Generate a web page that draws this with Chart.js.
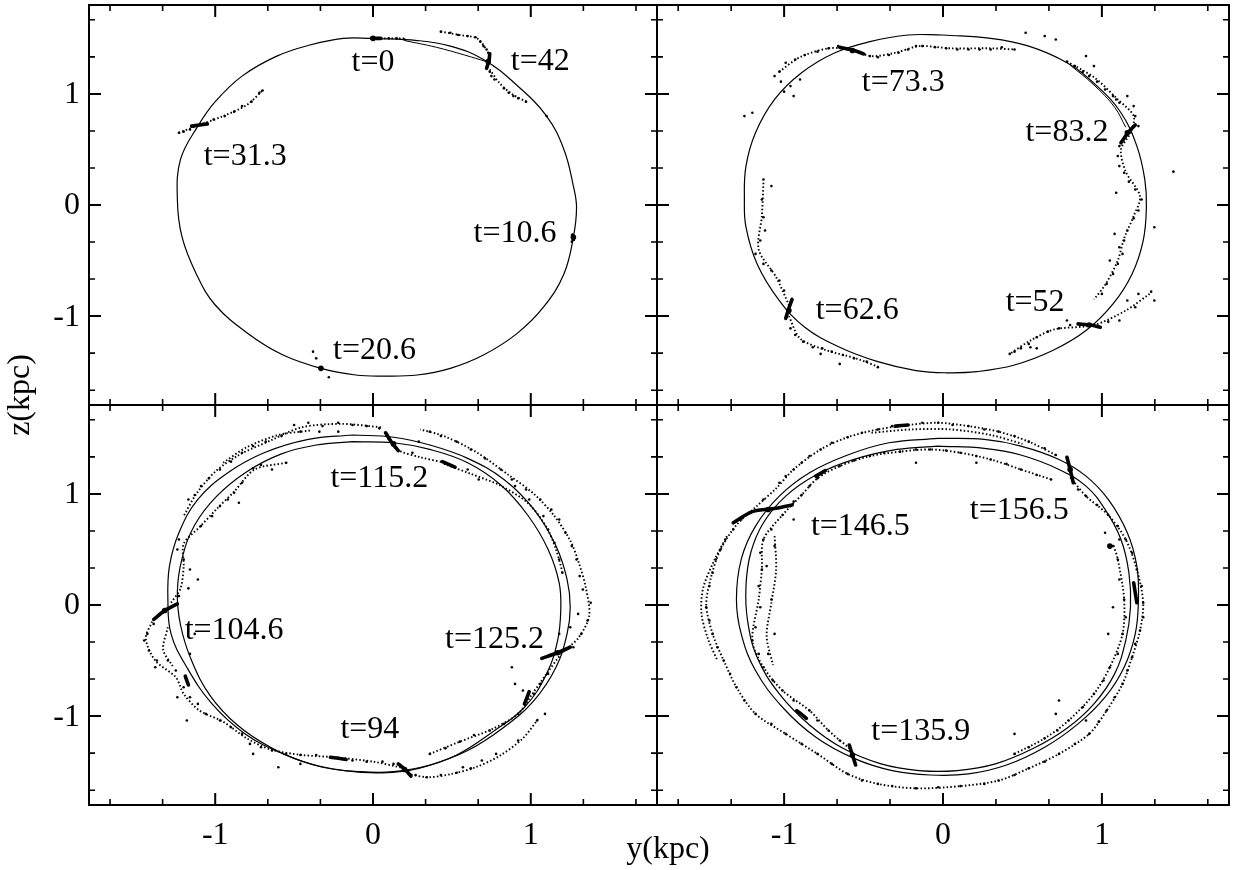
<!DOCTYPE html>
<html>
<head>
<meta charset="utf-8">
<title>Orbit snapshots</title>
<script src="https://cdn.jsdelivr.net/npm/chart.js@4.4.0/dist/chart.umd.min.js"></script>
<style>
    html, body { margin: 0; padding: 0; background: #fff; }
    #wrap { position: relative; width: 1241px; height: 870px; }
    #wrap canvas { position: absolute; left: 0; top: 0; }
</style>
</head>
<body>
<div id="wrap">
    <canvas id="c_tl" width="1241" height="870"></canvas>
    <canvas id="c_tr" width="1241" height="870"></canvas>
    <canvas id="c_bl" width="1241" height="870"></canvas>
    <canvas id="c_br" width="1241" height="870"></canvas>
</div>
<script>
/******************************************************************************
* Data. Every pair is [y(kpc), z(kpc)].
******************************************************************************/
var axisMin = -1.8;
var axisMax = 1.8;
var majorTicks = [-1, 0, 1];
var majorTickLabels = ['-1', '0', '1'];
var minorTicks = [-5/3, -4/3, -2/3, -1/3, 1/3, 2/3, 4/3, 5/3];
var xTitle = 'y(kpc)';
var yTitle = 'z(kpc)';

// top left panel
var orbitTL = [[0.00,1.50],[0.28,1.48],[0.49,1.43],[0.70,1.31],[0.91,1.08],[1.10,0.80],[1.21,0.50],[1.27,0.17],[1.29,-0.02],[1.27,-0.29],[1.21,-0.62],[1.08,-0.92],[0.91,-1.16],[0.70,-1.35],[0.49,-1.47],[0.28,-1.53],[0.06,-1.54],[-0.11,-1.53],[-0.33,-1.47],[-0.57,-1.35],[-0.78,-1.17],[-1.00,-0.90],[-1.12,-0.62],[-1.21,-0.29],[-1.24,0.05],[-1.22,0.41],[-1.11,0.71],[-1.00,0.93],[-0.83,1.16],[-0.61,1.34],[-0.40,1.44],[-0.19,1.50],[0.00,1.50]];
var trailTL = [[0.20,1.48],[0.40,1.42],[0.58,1.35],[0.72,1.29]];
var streamsTL = [
    [[0.43,1.56],[0.55,1.53],[0.66,1.50],[0.72,1.40]],
    [[0.74,1.22],[0.80,1.10],[0.88,1.00],[0.97,0.93]],
    [[-1.23,0.65],[-1.10,0.72],[-0.95,0.80],[-0.80,0.90],[-0.70,1.03]],
    [[0.00,1.50],[0.20,1.50]]
];
var clumpsTL = [[[0.72,1.23],[0.735,1.30],[0.74,1.36]], [[-1.15,0.71],[-1.05,0.73]], [[1.265,-0.27],[1.27,-0.31]], [[-0.01,1.50],[0.05,1.50]]];
var knotsTL = [[0.00,1.50],[0.73,1.29],[1.27,-0.29],[-0.33,-1.47]];
var starsTL = [[0.05,1.50],[0.10,1.50],[0.15,1.50],[0.20,1.49],[0.43,1.56],[0.49,1.55],[0.54,1.53],[0.60,1.52],[0.65,1.51],[0.68,1.47],[0.70,1.43],[0.72,1.40],[0.73,1.37],[0.74,1.20],[0.75,1.16],[0.77,1.13],[0.83,1.05],[0.86,1.01],[0.89,0.98],[0.92,0.96],[0.97,0.93],[1.10,0.80],
    [-1.23,0.65],[-1.20,0.66],[-1.16,0.68],[-1.01,0.77],[-0.94,0.80],[-0.88,0.84],[-0.83,0.89],[-0.77,0.93],[-0.72,1.01],[-0.70,1.03],
    [-0.38,-1.32],[-0.36,-1.38],[-0.28,-1.55],[1.26,-0.33]];
var labelsTL = ['t=0', 't=42', 't=31.3', 't=10.6', 't=20.6'];
var labelPosTL = [[0.00,1.28],[1.06,1.29],[-0.81,0.44],[0.90,-0.26],[0.01,-1.31]];

// top right panel
var orbitTR = [[0.00,1.53],[0.30,1.50],[0.54,1.43],[0.78,1.28],[0.97,1.07],[1.12,0.83],[1.22,0.53],[1.27,0.23],[1.28,-0.02],[1.26,-0.32],[1.19,-0.62],[1.07,-0.89],[0.90,-1.13],[0.69,-1.31],[0.45,-1.44],[0.21,-1.50],[0.02,-1.51],[-0.17,-1.49],[-0.41,-1.41],[-0.65,-1.28],[-0.87,-1.10],[-1.03,-0.86],[-1.17,-0.53],[-1.24,-0.20],[-1.25,0.05],[-1.24,0.35],[-1.18,0.65],[-1.06,0.95],[-0.89,1.19],[-0.68,1.37],[-0.46,1.47],[-0.22,1.53],[0.00,1.53]];
var trailTR = [[0.80,1.26],[0.95,1.08],[1.08,0.88],[1.15,0.70]];
var streamsTR = [
    [[-1.03,1.20],[-0.90,1.33],[-0.72,1.41],[-0.58,1.40],[-0.45,1.34],[-0.30,1.37],[-0.15,1.43],[0.05,1.41],[0.30,1.41],[0.45,1.40]],
    [[0.78,1.29],[0.95,1.15],[1.10,0.95],[1.20,0.80],[1.18,0.65],[1.12,0.50],[1.15,0.30],[1.24,0.08],[1.20,-0.10],[1.14,-0.30],[1.10,-0.50],[1.02,-0.72],[0.95,-0.85]],
    [[1.30,-0.80],[1.15,-0.95],[0.95,-1.08],[0.70,-1.12],[0.55,-1.22],[0.42,-1.34]],
    [[-1.13,0.20],[-1.14,-0.10],[-1.16,-0.40],[-1.05,-0.65],[-0.97,-0.90]],
    [[-0.97,-1.00],[-0.90,-1.20],[-0.75,-1.30],[-0.55,-1.38],[-0.40,-1.46]]
];
var clumpsTR = [[[-0.65,1.42],[-0.56,1.39],[-0.50,1.36]], [[1.12,0.56],[1.17,0.66],[1.21,0.72]], [[-0.99,-1.02],[-0.97,-0.93],[-0.95,-0.85]], [[0.85,-1.07],[0.93,-1.08],[0.99,-1.10]]];
var knotsTR = [[-0.57,1.39],[1.16,0.65],[-0.97,-0.95],[0.92,-1.08]];
var starsTR = [[-1.03,1.20],[-0.99,1.28],[-0.93,1.31],[-0.87,1.35],[-0.79,1.38],[-0.72,1.41],[-0.66,1.43],[-0.46,1.34],[-0.41,1.33],[-0.34,1.35],[-0.28,1.37],[-0.22,1.40],[-0.17,1.43],[-0.13,1.43],[-0.05,1.42],[0.02,1.41],[0.09,1.40],[0.16,1.40],[0.23,1.40],[0.30,1.40],[0.37,1.42],[0.45,1.40],[0.52,1.55],[0.71,1.49],[0.64,1.52],
    [-1.06,1.16],[-1.02,1.11],[-0.96,1.07],[-0.90,1.13],[-0.94,0.98],[-1.00,1.02],[-1.25,0.80],[-1.20,0.83],
    [0.78,1.29],[0.83,1.25],[0.88,1.20],[0.92,1.16],[0.95,1.25],[0.90,1.34],[0.97,1.11],[1.02,1.04],[1.07,0.98],[1.11,0.92],[1.16,0.98],[1.20,0.89],[1.21,0.80],[1.23,0.71],[1.09,0.95],
    [1.11,0.53],[1.10,0.44],[1.11,0.35],[1.14,0.29],[1.17,0.21],[1.21,0.14],[1.25,0.05],[1.23,-0.05],[1.20,-0.12],[1.16,-0.23],[1.14,-0.32],[1.13,-0.44],[1.10,-0.53],[1.07,-0.62],[1.03,-0.71],[1.00,-0.80],[1.09,0.11],[1.08,-0.26],[1.11,-0.38],[1.05,-0.50],[1.33,-0.20],[1.45,0.30],
    [1.16,-0.86],[1.23,-0.80],[1.31,-0.78],[1.33,-0.86],[1.21,-0.92],[1.11,-1.04],[1.04,-1.05],
    [0.80,-1.08],[0.73,-1.11],[0.66,-1.14],[0.59,-1.19],[0.54,-1.25],[0.49,-1.29],[0.45,-1.32],[0.42,-1.34],[0.59,-1.29],[0.55,-1.28],[0.78,-1.04],
    [-1.13,0.23],[-1.14,0.05],[-1.13,-0.11],[-1.12,-0.23],[-1.08,0.17],[-1.15,-0.32],[-1.18,-0.44],[-1.13,-0.53],[-1.08,-0.59],[-1.03,-0.68],[-1.00,-0.77],
    [-0.96,-1.11],[-0.93,-1.17],[-0.88,-1.23],[-0.82,-1.28],[-0.76,-1.29],[-0.70,-1.32],[-0.63,-1.35],[-0.56,-1.38],[-0.48,-1.41],[-0.41,-1.46],[-0.77,-1.34],[-0.65,-1.43]];
var labelsTR = ['t=73.3', 't=83.2', 't=62.6', 't=52'];
var labelPosTR = [[-0.25,1.10],[0.78,0.65],[-0.54,-0.95],[0.58,-0.88]];

// bottom left panel
var orbitBL = [[-0.13,1.53],[0.13,1.51],[0.36,1.44],[0.60,1.32],[0.83,1.13],[1.02,0.86],[1.16,0.53],[1.23,0.23],[1.25,-0.02],[1.23,-0.26],[1.16,-0.56],[1.02,-0.86],[0.83,-1.10],[0.60,-1.31],[0.36,-1.44],[0.13,-1.50],[-0.08,-1.50],[-0.32,-1.46],[-0.57,-1.34],[-0.81,-1.16],[-1.02,-0.89],[-1.18,-0.56],[-1.28,-0.26],[-1.30,0.05],[-1.29,0.35],[-1.23,0.65],[-1.11,0.95],[-0.92,1.19],[-0.69,1.37],[-0.41,1.49],[-0.13,1.53]];
var orbit2BL = [[-0.13,1.47],[0.13,1.46],[0.36,1.40],[0.60,1.28],[0.81,1.08],[0.98,0.81],[1.11,0.50],[1.18,0.20],[1.19,-0.05],[1.17,-0.32],[1.10,-0.62],[0.96,-0.92],[0.76,-1.14],[0.53,-1.35],[0.29,-1.47],[0.06,-1.51],[-0.18,-1.49],[-0.42,-1.42],[-0.65,-1.28],[-0.86,-1.08],[-1.03,-0.82],[-1.15,-0.50],[-1.22,-0.18],[-1.24,0.12],[-1.21,0.42],[-1.13,0.72],[-0.99,0.98],[-0.80,1.20],[-0.58,1.36],[-0.36,1.44],[-0.13,1.47]];
var streamsBL = [
    [[0.05,1.60],[-0.20,1.63],[-0.45,1.60],[-0.65,1.48],[-0.85,1.35],[-1.00,1.20],[-1.12,1.00],[-1.20,0.80]],
    [[-0.55,1.28],[-0.75,1.22],[-0.88,1.02],[-0.98,0.88],[-1.10,0.70],[-1.20,0.55],[-1.20,0.35],[-1.22,0.15],[-1.28,0.02]],
    [[-1.40,-0.15],[-1.44,-0.30],[-1.38,-0.50],[-1.25,-0.65],[-1.20,-0.80],[-1.10,-0.95],[-0.95,-1.05],[-0.80,-1.20],[-0.65,-1.30],[-0.45,-1.35],[-0.25,-1.37],[0.00,-1.41],[0.20,-1.47]],
    [[0.22,-1.52],[0.35,-1.55],[0.50,-1.52],[0.65,-1.46],[0.80,-1.36],[0.95,-1.20],[1.05,-1.02]],
    [[0.36,-1.34],[0.55,-1.23],[0.75,-1.12],[0.92,-0.98],[1.00,-0.82],[1.10,-0.62],[1.20,-0.43],[1.30,-0.30],[1.37,-0.10],[1.35,0.15],[1.30,0.40],[1.25,0.58],[1.15,0.80],[1.02,1.00],[0.85,1.18],[0.65,1.38],[0.45,1.52],[0.30,1.58]],
    [[0.45,1.27],[0.62,1.18],[0.80,1.08],[0.98,0.92],[1.10,0.70],[1.16,0.50],[1.20,0.30]],
    [[0.08,1.53],[0.15,1.40],[0.30,1.33],[0.46,1.28]],
    [[-0.40,1.57],[-0.60,1.53],[-0.80,1.42],[-0.95,1.28]],
    [[-1.30,-0.20],[-1.33,-0.40],[-1.27,-0.55]]
];
var clumpsBL = [[[0.08,1.55],[0.12,1.46],[0.16,1.39]], [[0.44,1.29],[0.52,1.24]], [[-1.39,-0.13],[-1.32,-0.05],[-1.24,0.01]], [[1.07,-0.48],[1.17,-0.43],[1.25,-0.38]], [[0.96,-0.89],[0.99,-0.78]], [[0.16,-1.43],[0.21,-1.49],[0.24,-1.54]], [[-0.27,-1.37],[-0.17,-1.39]], [[-1.19,-0.64],[-1.17,-0.72]]];
var knotsBL = [[0.13,1.45],[-1.32,-0.05],[1.17,-0.43],[0.20,-1.48]];
var starsBL = [[-0.50,1.62],[-0.41,1.64],[-0.32,1.61],[-0.22,1.64],[-0.13,1.62],[-0.04,1.61],[0.04,1.59],[-0.46,1.56],[-0.34,1.56],[-0.22,1.56],[-0.58,1.52],[-0.68,1.47],[-0.76,1.43],[-0.83,1.37],[-0.90,1.29],[-0.97,1.22],[-1.04,1.14],[-1.09,1.07],[-1.13,0.99],[-1.17,0.95],
    [-0.71,1.26],[-0.76,1.23],[-0.64,1.22],[-0.83,1.10],[-0.88,1.01],[-0.92,0.95],[-0.97,0.89],[-0.85,0.92],[-1.02,0.80],[-1.09,0.71],[-0.55,1.28],
    [-1.23,0.59],[-1.24,0.50],[-1.20,0.41],[-1.16,0.32],[-1.11,0.23],[-1.17,0.15],[-1.23,0.08],[-1.39,-0.17],[-1.43,-0.26],[-1.45,-0.32],[-1.42,-0.41],[-1.37,-0.50],[-1.38,-0.56],[-1.30,-0.50],[-1.25,-0.59],[-1.20,-0.74],[-1.24,-0.83],[-1.16,-0.83],[-1.11,-0.89],[-1.18,-1.04],[-1.06,-0.98],[-1.13,-0.26],[-1.16,-0.44],
    [-0.97,-1.04],[-0.90,-1.10],[-0.83,-1.16],[-0.78,-1.25],[-0.71,-1.28],[-0.64,-1.31],[-0.55,-1.34],[-0.46,-1.35],[-0.36,-1.35],[-0.13,-1.40],[-0.04,-1.41],[0.06,-1.41],[0.13,-1.43],[0.27,-1.53],[0.34,-1.55],[0.43,-1.53],[0.53,-1.51],[0.62,-1.47],[-0.60,-1.46],[-0.76,-1.34],[-0.46,-1.43],
    [0.36,-1.34],[0.46,-1.29],[0.55,-1.23],[0.64,-1.17],[0.74,-1.13],[0.83,-1.07],[0.92,-0.98],[1.02,-0.80],[1.06,-0.71],[1.11,-0.62],[0.90,-0.71],[0.88,-0.56],[0.95,-0.77],[1.04,-1.04],[1.09,-0.98],[0.92,-1.22],[0.78,-1.34],[0.69,-1.40],[0.57,-1.46],
    [1.27,-0.38],[1.32,-0.26],[1.36,-0.14],[1.38,0.02],[1.33,0.14],[1.31,0.26],[1.29,0.41],[1.26,0.53],[1.22,0.65],[1.18,0.77],[1.13,0.86],[1.06,0.95],[0.97,1.04],[0.88,1.13],[0.81,1.22],[0.71,1.32],[0.62,1.40],[0.53,1.47],[0.43,1.52],[0.36,1.56],[0.29,1.47],[0.25,1.37],[0.60,1.22],[0.67,1.13],[0.90,1.07],[0.99,0.95],[1.08,0.80],[1.11,0.68],[1.15,0.56],[1.18,0.41],[1.20,0.29],[1.30,-0.08],[1.25,-0.20],[1.18,-0.26]];
var labelsBL = ['t=115.2', 't=104.6', 't=125.2', 't=94'];
var labelPosBL = [[0.04,1.14],[-0.88,-0.23],[0.77,-0.31],[-0.02,-1.12]];

// bottom right panel
var orbitBR = [[-0.03,1.50],[0.26,1.49],[0.49,1.43],[0.73,1.31],[0.90,1.16],[1.04,0.95],[1.16,0.65],[1.22,0.35],[1.23,0.05],[1.21,-0.26],[1.14,-0.56],[1.02,-0.83],[0.85,-1.07],[0.64,-1.28],[0.40,-1.44],[0.16,-1.52],[-0.08,-1.53],[-0.32,-1.49],[-0.56,-1.38],[-0.80,-1.19],[-1.01,-0.92],[-1.18,-0.59],[-1.27,-0.26],[-1.30,0.05],[-1.27,0.41],[-1.18,0.71],[-1.03,0.98],[-0.84,1.19],[-0.60,1.35],[-0.34,1.46],[-0.03,1.50]];
var orbit2BR = [[-0.03,1.43],[0.26,1.41],[0.49,1.35],[0.73,1.22],[0.90,1.07],[1.02,0.86],[1.12,0.59],[1.17,0.29],[1.18,-0.02],[1.15,-0.32],[1.08,-0.62],[0.95,-0.89],[0.78,-1.11],[0.57,-1.29],[0.33,-1.43],[0.09,-1.49],[-0.15,-1.49],[-0.39,-1.43],[-0.63,-1.29],[-0.84,-1.08],[-1.03,-0.80],[-1.17,-0.47],[-1.23,-0.14],[-1.24,0.17],[-1.21,0.47],[-1.13,0.74],[-0.99,0.98],[-0.80,1.17],[-0.56,1.31],[-0.29,1.40],[-0.03,1.43]];
var streamsBR = [
    [[0.71,1.35],[0.54,1.47],[0.35,1.56],[0.16,1.61],[-0.03,1.64],[-0.22,1.62],[-0.41,1.58],[-0.60,1.51],[-0.77,1.40],[-0.94,1.22],[-1.05,1.05],[-1.18,0.88],[-1.30,0.72],[-1.40,0.50],[-1.46,0.25],[-1.49,0.00],[-1.45,-0.26],[-1.38,-0.50],[-1.30,-0.74],[-1.18,-0.98],[-0.99,-1.16],[-0.79,-1.34],[-0.60,-1.52],[-0.41,-1.61],[-0.17,-1.65],[0.11,-1.63],[0.35,-1.58],[0.54,-1.47],[0.73,-1.34],[0.92,-1.16],[1.03,-0.95],[1.13,-0.71],[1.19,-0.47],[1.24,-0.23],[1.26,0.02],[1.22,0.32],[1.15,0.59],[1.04,0.81],[0.90,0.98],[0.80,1.15]],
    [[0.68,1.13],[0.49,1.22],[0.30,1.31],[0.11,1.37],[-0.08,1.40],[-0.27,1.38],[-0.46,1.34],[-0.65,1.25],[-0.79,1.14],[-0.89,0.99],[-1.01,0.81],[-1.13,0.59],[-1.14,0.32],[-1.16,0.05],[-1.20,-0.32],[-1.13,-0.56],[-1.01,-0.77],[-0.84,-0.95],[-0.72,-1.13],[-0.58,-1.30]],
    [[0.45,-1.34],[0.64,-1.20],[0.79,-1.04],[0.95,-0.80],[1.05,-0.56],[1.13,-0.26],[1.14,0.05],[1.10,0.41],[1.07,0.55]],
    [[-1.36,0.62],[-1.44,0.40],[-1.51,0.15],[-1.52,-0.08],[-1.48,-0.30],[-1.42,-0.50]],
    [[-1.06,0.62],[-1.05,0.32],[-1.08,0.02],[-1.11,-0.28],[-1.07,-0.54]],
    [[-0.45,1.55],[-0.20,1.58],[0.05,1.58],[0.30,1.53],[0.50,1.45]]
];
var clumpsBR = [[[0.78,1.33],[0.80,1.22],[0.82,1.10]], [[-1.32,0.74],[-1.20,0.84],[-1.05,0.87],[-0.95,0.90]], [[-0.59,-1.26],[-0.57,-1.35],[-0.55,-1.44]], [[-0.92,-0.95],[-0.86,-1.02]], [[-0.80,1.16],[-0.74,1.21]], [[1.20,0.20],[1.22,0.02]], [[-0.30,1.61],[-0.22,1.62]]];
var knotsBR = [[0.80,1.22],[-1.10,0.86],[-0.57,-1.35],[1.05,0.53]];
var starsBR = [[-0.32,1.61],[-0.22,1.62],[-0.13,1.64],[-0.03,1.64],[0.06,1.62],[0.16,1.61],[0.26,1.58],[0.35,1.56],[0.45,1.52],[0.54,1.47],[0.64,1.41],[0.71,1.35],[-0.41,1.58],[-0.51,1.55],[-0.60,1.51],[-0.70,1.46],[-0.77,1.40],[-0.84,1.34],[-0.89,1.28],[-0.94,1.22],[-0.99,1.16],[-1.03,1.10],[-1.13,0.95],[-1.22,0.83],[-1.27,0.77],[-1.32,0.68],[-1.37,0.59],[-1.40,0.50],[-1.43,0.41],[-1.45,0.29],[-1.47,0.17],[-1.49,-0.02],[-1.47,-0.14],[-1.45,-0.26],[-1.42,-0.38],[-1.38,-0.50],[-1.34,-0.62],[-1.30,-0.74],[-1.25,-0.86],[-1.18,-0.98],[-1.08,-1.07],[-0.99,-1.16],[-0.89,-1.25],[-0.79,-1.34],[-0.70,-1.43],[-0.60,-1.52],[-0.51,-1.58],[-0.41,-1.61],[-0.32,-1.63],[-0.17,-1.65],[-0.03,-1.64],[0.11,-1.63],[0.26,-1.61],[0.35,-1.58],[0.45,-1.53],[0.54,-1.47],[0.64,-1.41],[0.73,-1.34],[0.83,-1.25],[0.92,-1.16],[0.98,-1.05],[1.03,-0.95],[1.08,-0.83],[1.13,-0.71],[1.16,-0.59],[1.19,-0.47],[1.21,-0.35],[1.24,-0.23],[1.26,-0.11],[1.26,0.02],[1.25,0.17],[1.22,0.32],[1.19,0.47],[1.15,0.59],[1.10,0.71],[1.04,0.81],[0.97,0.90],[0.90,0.98],[0.85,1.04],
    [-0.65,1.25],[-0.56,1.30],[-0.46,1.34],[-0.37,1.37],[-0.27,1.38],[-0.17,1.40],[-0.08,1.40],[0.02,1.39],[0.11,1.37],[0.21,1.34],[0.30,1.31],[0.40,1.27],[0.49,1.22],[0.59,1.17],[0.68,1.13],[-0.79,1.14],[-0.84,1.07],[-0.89,0.99],[-0.94,0.93],[-1.01,0.81],[-1.08,0.68],[-1.13,0.59],[-1.15,0.47],[-1.14,0.32],[-1.16,0.17],[-1.15,-0.02],[-1.18,-0.20],[-1.20,-0.32],[-1.16,-0.44],[-1.13,-0.56],[-1.07,-0.68],[-1.01,-0.77],[-0.94,-0.86],[-0.84,-0.95],[-0.79,-1.04],[-0.72,-1.13],[-0.65,-1.22],[0.45,-1.34],[0.54,-1.28],[0.64,-1.20],[0.72,-1.13],[0.79,-1.04],[0.88,-0.92],[0.95,-0.80],[1.01,-0.68],[1.05,-0.56],[1.10,-0.44],[1.13,-0.26],[1.15,-0.11],[1.14,0.05],[1.11,0.23],[1.10,0.41],[1.07,0.53],[1.11,0.59],[1.02,0.65],
    [-1.06,0.53],[-1.11,0.35],[-1.08,0.05],[-1.06,-0.26],[-1.10,-0.44],[1.07,-0.02],[1.04,-0.26],[0.73,-0.86],[0.71,-0.98],[0.45,-1.16],[0.90,-1.04],[-0.17,1.28],[0.21,1.28],[-0.94,0.77]];
var labelsBR = ['t=146.5', 't=156.5', 't=135.9'];
var labelPosBR = [[-0.52,0.71],[0.48,0.85],[-0.14,-1.14]];

/******************************************************************************
* Layout of the four panels on the page (pixels).
******************************************************************************/
var PAGE_W = 1241, PAGE_H = 870;
var FONT = "32px 'Liberation Serif', 'Times New Roman', serif";

function to_xy(arr) {
    return arr.map(function(p) { return { x: p[0], y: p[1] }; });
}

/******************************************************************************
* Draws the frame, the inward ticks, tick labels and the t= annotations.
******************************************************************************/
function make_frame_plugin(cfg) {
    return {
        id: 'panelFrame',
        afterDatasetsDraw: function(chart) {
            var ctx = chart.ctx;
            var a   = chart.chartArea;
            var xs  = chart.scales.x;
            var ys  = chart.scales.y;

            ctx.save();
            ctx.strokeStyle = '#000';
            ctx.lineWidth = 2;
            ctx.strokeRect(a.left, a.top, a.right - a.left, a.bottom - a.top);

            function ticks(values, len, width) {
                ctx.lineWidth = width;
                ctx.beginPath();
                values.forEach(function(v) {
                    var px = xs.getPixelForValue(v);
                    ctx.moveTo(px, a.bottom); ctx.lineTo(px, a.bottom - len);
                    ctx.moveTo(px, a.top);    ctx.lineTo(px, a.top + len);
                    var py = ys.getPixelForValue(v);
                    ctx.moveTo(a.left, py);   ctx.lineTo(a.left + len, py);
                    ctx.moveTo(a.right, py);  ctx.lineTo(a.right - len, py);
                });
                ctx.stroke();
            }
            ticks(majorTicks, 12, 2);
            ticks(minorTicks, 6, 1.6);

            ctx.fillStyle = '#000';
            ctx.font = FONT;

            // tick labels only on the outer sides
            if (cfg.leftLabels) {
                ctx.textAlign = 'right';
                ctx.textBaseline = 'middle';
                majorTicks.forEach(function(v, i) {
                    ctx.fillText(majorTickLabels[i], a.left - 9, ys.getPixelForValue(v) + 1);
                });
            }
            if (cfg.bottomLabels) {
                ctx.textAlign = 'center';
                ctx.textBaseline = 'middle';
                majorTicks.forEach(function(v, i) {
                    ctx.fillText(majorTickLabels[i], xs.getPixelForValue(v), a.bottom + 31);
                });
            }

            // the t= annotations
            ctx.textAlign = 'center';
            ctx.textBaseline = 'middle';
            cfg.labels.forEach(function(txt, i) {
                var p = cfg.labelPos[i];
                ctx.fillText(txt, xs.getPixelForValue(p[0]), ys.getPixelForValue(p[1]));
            });

            if (cfg.titles) {
                ctx.fillText(xTitle, 668, 850);
                ctx.translate(21, 395);
                ctx.rotate(-Math.PI / 2);
                ctx.fillText(yTitle, 0, 0);
            }
            ctx.restore();
        }
    };
}

/******************************************************************************
* Builds one panel.
******************************************************************************/
function create_panel(id, box, orbits, streams, clumps, stars, knots, cfg) {

    var datasets = [];

    orbits.forEach(function(o) {
        datasets.push({
            data: to_xy(o.pts),
            showLine: true,
            borderColor: '#000',
            borderWidth: o.width,
            pointRadius: 0,
            tension: 0.4,
            fill: false
        });
    });
    // the dense parts of the tidal tails, drawn as dotted lines
    streams.forEach(function(s) {
        datasets.push({
            data: to_xy(s),
            showLine: true,
            borderColor: '#000',
            borderWidth: 1.9,
            borderDash: [1.5, 2.2],
            pointRadius: 0,
            tension: 0.3,
            fill: false
        });
    });
    // the bound clumps, short thick smudges
    clumps.forEach(function(c) {
        datasets.push({
            data: to_xy(c),
            showLine: true,
            borderColor: '#000',
            borderWidth: 3.6,
            borderCapStyle: 'round',
            pointRadius: 0,
            tension: 0.3,
            fill: false
        });
    });
    datasets.push({
        data: to_xy(stars),
        pointRadius: 1.3,
        pointStyle: 'circle',
        backgroundColor: '#000',
        borderWidth: 0
    });
    datasets.push({
        data: to_xy(knots),
        pointRadius: 2.8,
        backgroundColor: '#000',
        borderWidth: 0
    });

    var ctx = document.getElementById(id).getContext('2d');
    return new Chart(ctx, {
        type: 'scatter',
        data: { datasets: datasets },
        options: {
            responsive: false,
            animation: false,
            events: [],
            devicePixelRatio: 1,
            layout: {
                padding: {
                    left: box.left,
                    top: box.top,
                    right: PAGE_W - box.right,
                    bottom: PAGE_H - box.bottom
                }
            },
            plugins: {
                legend: { display: false },
                tooltip: { enabled: false }
            },
            scales: {
                x: { type: 'linear', min: axisMin, max: axisMax, display: false },
                y: { type: 'linear', min: axisMin, max: axisMax, display: false }
            }
        },
        plugins: [make_frame_plugin(cfg)]
    });
}

create_panel('c_tl', { left: 89, top: 5, right: 657, bottom: 405 },
    [{ pts: orbitTL, width: 1.2 }, { pts: trailTL, width: 1 }], streamsTL, clumpsTL, starsTL, knotsTL,
    { leftLabels: true, bottomLabels: false, titles: true, labels: labelsTL, labelPos: labelPosTL });

create_panel('c_tr', { left: 657, top: 5, right: 1229, bottom: 405 },
    [{ pts: orbitTR, width: 1.2 }, { pts: trailTR, width: 1 }], streamsTR, clumpsTR, starsTR, knotsTR,
    { leftLabels: false, bottomLabels: false, titles: false, labels: labelsTR, labelPos: labelPosTR });

create_panel('c_bl', { left: 89, top: 405, right: 657, bottom: 805 },
    [{ pts: orbitBL, width: 1.2 }, { pts: orbit2BL, width: 1.2 }], streamsBL, clumpsBL, starsBL, knotsBL,
    { leftLabels: true, bottomLabels: true, titles: false, labels: labelsBL, labelPos: labelPosBL });

create_panel('c_br', { left: 657, top: 405, right: 1229, bottom: 805 },
    [{ pts: orbitBR, width: 1.2 }, { pts: orbit2BR, width: 1.2 }], streamsBR, clumpsBR, starsBR, knotsBR,
    { leftLabels: false, bottomLabels: true, titles: false, labels: labelsBR, labelPos: labelPosBR });
</script>
</body>
</html>
